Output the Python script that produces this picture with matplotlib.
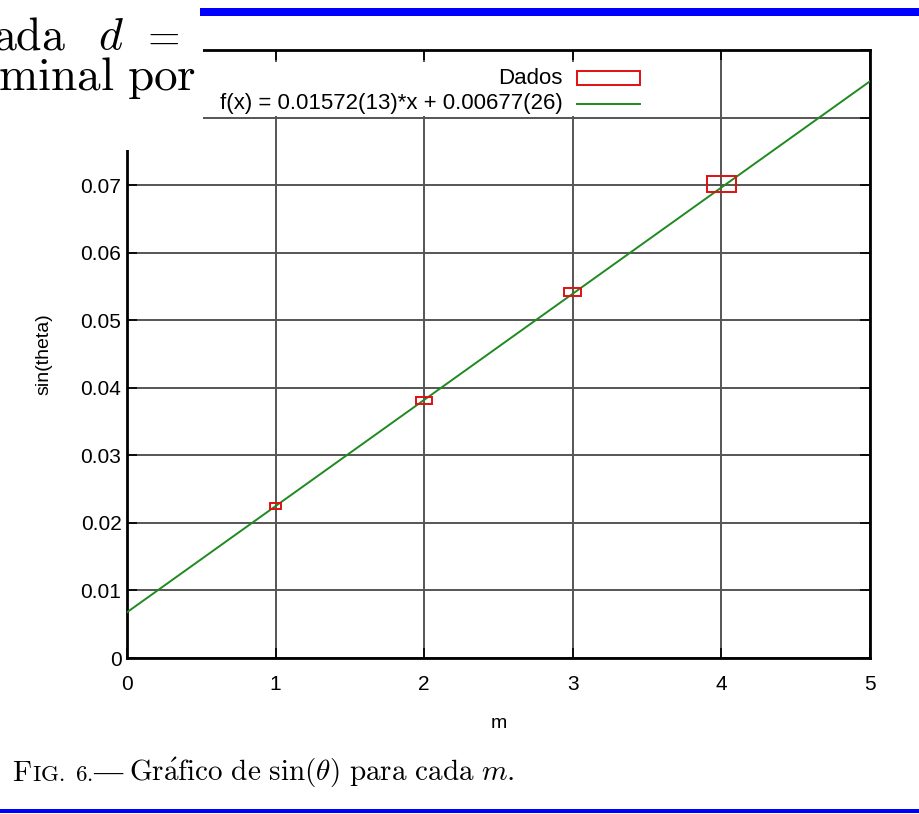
import numpy as np
import matplotlib.pyplot as plt
from matplotlib.patches import Rectangle
from matplotlib.lines import Line2D

# data
m = [1, 2, 3, 4]
sin_theta = [0.02248, 0.03806, 0.05415, 0.07018]
m_err = [0.037, 0.054, 0.058, 0.100]
sin_err = [0.00045, 0.00052, 0.00060, 0.00115]

# fitted line f(x) = a*x + b
a_fit = 0.01572
b_fit = 0.00677
fit_label = 'f(x) = 0.01572(13)*x + 0.00677(26)'

x_ticks = [0, 1, 2, 3, 4, 5]
y_ticks = [0, 0.01, 0.02, 0.03, 0.04, 0.05, 0.06, 0.07, 0.08, 0.09]

plt.rcParams['font.family'] = ['Liberation Sans', 'DejaVu Sans']
plt.rcParams['mathtext.fontset'] = 'cm'

W, H = 920, 814
fig = plt.figure(figsize=(W / 100, H / 100), dpi=100)
ax = fig.add_axes([127 / W, 1 - 658 / H, 743 / W, 608 / H])

# grid
for xt in x_ticks:
    ax.axvline(xt, color='#555555', lw=1.4, zorder=0)
for yt in y_ticks:
    ax.axhline(yt, color='#555555', lw=1.4, zorder=0)

# fit line
xf = np.array([0, 5])
ax.plot(xf, a_fit * xf + b_fit, color='#1f8a1f', lw=1.4, zorder=3)

# data as xy error boxes
for xi, yi, dx, dy in zip(m, sin_theta, m_err, sin_err):
    ax.add_patch(Rectangle((xi - dx, yi - dy), 2 * dx, 2 * dy, fill=False,
                           edgecolor='#e01010', lw=1.4, zorder=4))

ax.set_xlim(0, 5)
ax.set_ylim(0, 0.09)
ax.set_xticks(x_ticks)
ax.set_yticks(y_ticks)
ax.set_xticklabels([str(v) for v in x_ticks])
ax.set_yticklabels(['0' if v == 0 else '%.2f' % v for v in y_ticks])
ax.tick_params(direction='in', length=7, width=1.2, top=True, right=True,
               labelsize=15, colors='black')
ax.tick_params(axis='x', pad=12)
ax.tick_params(axis='y', pad=4)
for sp in ax.spines.values():
    sp.set_linewidth(2)
ax.set_xlabel('m', fontsize=14, labelpad=15)
ax.set_ylabel('sin(theta)', fontsize=14, labelpad=20)

# key (gnuplot style: text right-justified, sample to the right)
def px(xp, yp):
    return ((xp - 127) / 743, (658 - yp) / 608)

x0, y0 = px(205, 116)
x1, y1 = px(655, 62)
ax.add_patch(Rectangle((x0, y0), x1 - x0, y1 - y0, transform=ax.transAxes,
                       facecolor='white', edgecolor='none', zorder=5))
tx, ty = px(563, 78)
ax.text(tx, ty, 'Dados', transform=ax.transAxes, ha='right', va='center',
        fontsize=16, zorder=6)
bx0, by0 = px(577, 85)
bx1, by1 = px(640, 71)
ax.add_patch(Rectangle((bx0, by0), bx1 - bx0, by1 - by0, transform=ax.transAxes,
                       fill=False, edgecolor='#e01010', lw=1.4, zorder=6))
tx, ty = px(563, 104)
ax.text(tx, ty, fit_label, transform=ax.transAxes, ha='right', va='center',
        fontsize=16, zorder=6)
lx0, ly = px(577, 104)
lx1, _ = px(640, 104)
ax.add_line(Line2D([lx0, lx1], [ly, ly], transform=ax.transAxes,
                   color='#1f8a1f', lw=1.4, zorder=6))

# page around the figure: white corner with body text, blue rules
fig.add_artist(Rectangle((0, 1 - 150 / H), 203 / W, 150 / H,
                         transform=fig.transFigure, facecolor='white',
                         edgecolor='none', zorder=10))
fig.add_artist(Rectangle((200 / W, 1 - 16 / H), 720 / W, 8 / H,
                         transform=fig.transFigure, facecolor='#0000ff',
                         edgecolor='none', zorder=10))
fig.add_artist(Rectangle((0, 1 - 813 / H), 1, 4 / H,
                         transform=fig.transFigure, facecolor='#0000ff',
                         edgecolor='none', zorder=10))
fig.text(-7 / W, 1 - 49 / H, r'$\mathrm{ada}$', fontsize=33, zorder=11)
fig.text(98 / W, 1 - 49 / H, r'$d$', fontsize=33, zorder=11)
fig.text(140 / W, 1 - 49 / H, r'$=$', fontsize=30, zorder=11)
fig.text(-2 / W, 1 - 90 / H, r'$\mathrm{minal\ por}$', fontsize=34, zorder=11)

# caption with small caps "FIG."
renderer = fig.canvas.get_renderer()
cx = 12 / W
cy = 1 - 781 / H
parts = [(r'$\mathrm{F}$', 21, 'Liberation Serif'),
         (r'$\mathrm{IG.\ 6.}$', 16.5, 'Liberation Serif'),
         ('\u2014 ', 21, 'Liberation Serif'),
         (r'$\mathrm{Gr\acute{a}fico\ de\ sin}(\theta)\ \mathrm{para\ cada}\ m.$', 21,
          'Liberation Serif')]
for s, size, fam in parts:
    t = fig.text(cx, cy, s, fontsize=size, family=fam, zorder=11)
    bb = t.get_window_extent(renderer)
    cx += bb.width / W

fig.savefig('out.png', dpi=100)
